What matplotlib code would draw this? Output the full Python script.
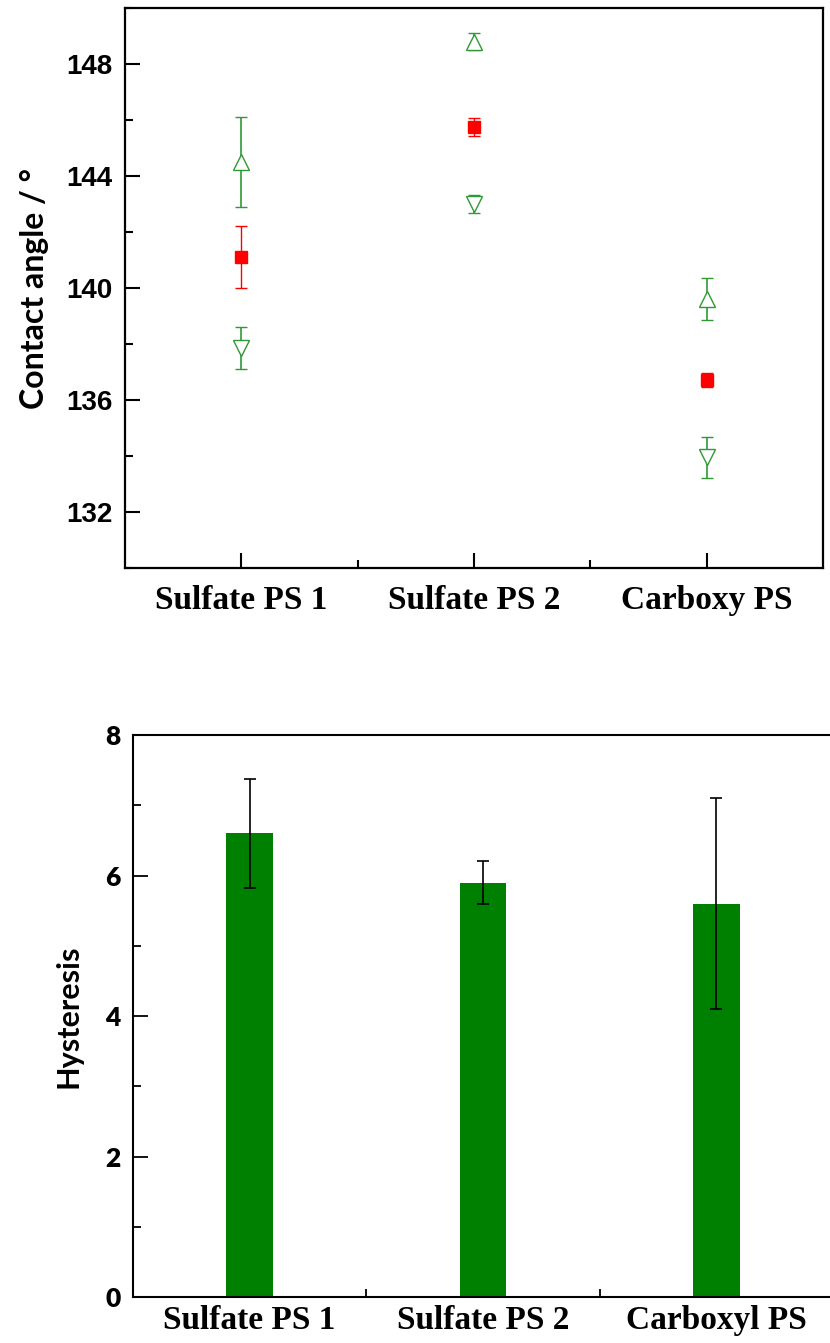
import matplotlib
matplotlib.use("Agg")
import matplotlib.pyplot as plt
from matplotlib.ticker import MultipleLocator

# top panel: contact angles
samples_top = ["Sulfate PS 1", "Sulfate PS 2", "Carboxy PS"]
advancing = [144.5, 148.8, 139.6]
advancing_err = [1.6, 0.3, 0.75]
mean_angle = [141.1, 145.75, 136.7]
mean_err = [1.1, 0.32, 0.25]
receding = [137.85, 143.0, 133.95]
receding_err = [0.75, 0.33, 0.72]

# bottom panel: hysteresis
samples_bottom = ["Sulfate PS 1", "Sulfate PS 2", "Carboxyl PS"]
hysteresis = [6.6, 5.9, 5.6]
hysteresis_err = [0.78, 0.3, 1.5]

GREEN = "#2f9a35"
SERIF = ["Liberation Serif", "DejaVu Serif"]
SANS = ["Liberation Sans", "DejaVu Sans"]
LABEL = ["Lato", "DejaVu Sans"]

fig = plt.figure(figsize=(8.3, 13.43), dpi=100)

# ---- top panel
ax1 = fig.add_axes([0.1506, 0.5771, 0.841, 0.4169])
x = [1, 2, 3]
ax1.errorbar(x, advancing, yerr=advancing_err, fmt="^", ms=12, mfc="white",
             mec=GREEN, mew=1.0, color=GREEN, ecolor=GREEN, elinewidth=1.2,
             capsize=4.4, capthick=1.2)
ax1.errorbar(x, mean_angle, yerr=mean_err, fmt="s", ms=8.5, mfc="red",
             mec="red", color="red", ecolor="red", elinewidth=1.0,
             capsize=4.4, capthick=1.0)
ax1.errorbar(x, receding, yerr=receding_err, fmt="v", ms=12, mfc="white",
             mec=GREEN, mew=1.0, color=GREEN, ecolor=GREEN, elinewidth=1.2,
             capsize=4.4, capthick=1.2)
ax1.set_xlim(0.5, 3.5)
ax1.set_ylim(130, 150)
ax1.set_xticks(x)
ax1.set_xticklabels(samples_top, family=SERIF, fontweight="bold", fontsize=24)
ax1.set_xticks([1.5, 2.5], minor=True)
ax1.yaxis.set_minor_locator(MultipleLocator(2))
ax1.set_yticks([132, 136, 140, 144, 148])
for lab in ax1.get_yticklabels():
    lab.set_family(SANS)
    lab.set_fontweight("bold")
    lab.set_fontsize(20)
ax1.set_ylabel("Contact angle / °", family=LABEL, fontweight="bold",
               fontsize=23, labelpad=12)
ax1.tick_params(which="both", direction="in", width=1.5)
ax1.tick_params(which="major", length=11)
ax1.tick_params(which="minor", length=6)
ax1.tick_params(axis="x", pad=12)
ax1.tick_params(axis="y", pad=9)
for sp in ax1.spines.values():
    sp.set_linewidth(1.6)

# ---- bottom panel
ax2 = fig.add_axes([0.1602, 0.03425, 0.8434, 0.41845])
ax2.bar(x, hysteresis, width=0.2, color="#008000", zorder=2)
ax2.errorbar(x, hysteresis, yerr=hysteresis_err, fmt="none", ecolor="black",
             elinewidth=1.2, capsize=4.4, capthick=1.2, zorder=3)
ax2.set_xlim(0.5, 3.5)
ax2.set_ylim(0, 8)
ax2.set_xticks(x)
ax2.set_xticklabels(samples_bottom, family=SERIF, fontweight="bold", fontsize=24)
ax2.set_xticks([1.5, 2.5], minor=True)
ax2.set_yticks([0, 2, 4, 6, 8])
ax2.yaxis.set_minor_locator(MultipleLocator(1))
for lab in ax2.get_yticklabels():
    lab.set_family(LABEL)
    lab.set_fontweight("heavy")
    lab.set_fontsize(19)
ax2.set_ylabel("Hysteresis", family=LABEL, fontweight="bold", fontsize=22,
               labelpad=16)
ax2.tick_params(which="both", direction="in", width=1.3)
ax2.tick_params(which="major", length=11)
ax2.tick_params(which="minor", length=6)
ax2.tick_params(axis="x", pad=6)
ax2.tick_params(axis="y", pad=9)
for sp in ax2.spines.values():
    sp.set_linewidth(1.5)

fig.savefig("out.png", dpi=100)
